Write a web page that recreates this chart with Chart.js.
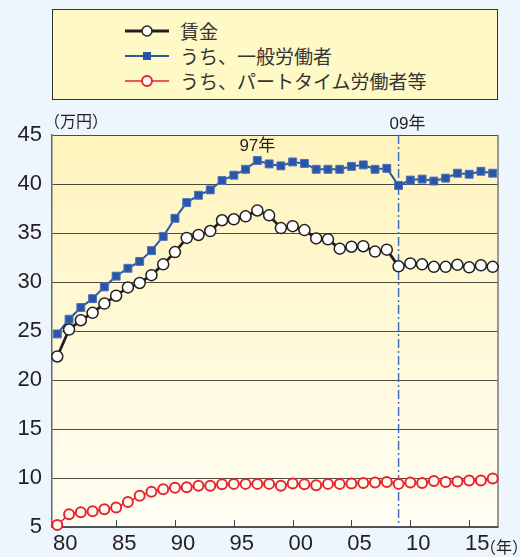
<!DOCTYPE html>
<html>
<head>
<meta charset="utf-8">
<script src="https://cdn.jsdelivr.net/npm/chart.js@4"></script>
<style>
  body { margin: 0; background: #EEF6FD; }
  #wrap { position: relative; width: 520px; height: 557px; }
  #legend {
    position: absolute; left: 52px; top: 9px; width: 446px; height: 91px;
    box-sizing: border-box; border: 1.5px solid #333; background: #FFF9C6;
    padding-top: 8px;
  }
  .row { height: 25px; display: flex; align-items: center; padding-left: 72px; }
  .row svg { margin-right: 11px; }
  .row span { font: 19px "Noto Sans CJK JP", sans-serif; color: #333; line-height: 25px; }
</style>
</head>
<body>
<div id="wrap">
  <canvas id="myChart" width="520" height="557"></canvas>
  <div id="legend"></div>
</div>
<script>
// ↓ Données ↓

const years = [1980, 1981, 1982, 1983, 1984, 1985, 1986, 1987, 1988, 1989,
               1990, 1991, 1992, 1993, 1994, 1995, 1996, 1997, 1998, 1999,
               2000, 2001, 2002, 2003, 2004, 2005, 2006, 2007, 2008, 2009,
               2010, 2011, 2012, 2013, 2014, 2015, 2016, 2017];

// 賃金
const chingin = [22.4, 25.15, 26.1, 26.85, 27.8, 28.6, 29.45, 29.9, 30.7, 31.8,
                 33.05, 34.5, 34.8, 35.2, 36.3, 36.4, 36.7, 37.3, 36.8, 35.5,
                 35.7, 35.3, 34.45, 34.35, 33.4, 33.6, 33.65, 33.1, 33.3, 31.6,
                 31.9, 31.8, 31.55, 31.55, 31.75, 31.5, 31.7, 31.55];

// うち、一般労働者
const ippan = [24.7, 26.2, 27.4, 28.3, 29.5, 30.6, 31.4, 32.1, 33.2, 34.65,
               36.5, 38.1, 38.85, 39.4, 40.35, 40.9, 41.5, 42.4, 42.05, 41.85,
               42.25, 42.1, 41.5, 41.5, 41.5, 41.8, 41.95, 41.5, 41.6, 39.85,
               40.4, 40.5, 40.3, 40.6, 41.1, 41.0, 41.3, 41.1];

// うち、パートタイム労働者等
const part = [5.2, 6.3, 6.5, 6.6, 6.8, 7.0, 7.55, 8.2, 8.6, 8.85,
              9.0, 9.05, 9.2, 9.2, 9.35, 9.4, 9.4, 9.4, 9.4, 9.2,
              9.45, 9.35, 9.25, 9.4, 9.4, 9.45, 9.5, 9.55, 9.6, 9.4,
              9.55, 9.5, 9.7, 9.6, 9.65, 9.75, 9.75, 9.95];

const tickYears = [1980, 1985, 1990, 1995, 2000, 2005, 2010, 2015];
const tickLabels = ['80', '85', '90', '95', '00', '05', '10', '15'];

const peakYear = 1997;
const breakYear = 2009;

const toPoints = arr => arr.map((v, i) => ({ x: years[i], y: v }));

Chart.defaults.font.family = '"Liberation Sans", "Noto Sans CJK JP", sans-serif';
Chart.defaults.color = '#231F20';

// ↓ Fond du graphique, bordures, ligne 09年 et textes ↓

const decor = {
    id: 'decor',
    beforeDraw(chart) {
        const { ctx, chartArea: a } = chart;
        const g = ctx.createLinearGradient(0, a.top, 0, a.bottom);
        g.addColorStop(0, '#FFF4BC');
        g.addColorStop(1, '#FFFEF4');
        ctx.save();
        ctx.fillStyle = g;
        ctx.fillRect(a.left, a.top, a.right - a.left, a.bottom - a.top);
        ctx.restore();
    },
    beforeDatasetsDraw(chart) {
        const { ctx, chartArea: a, scales } = chart;
        ctx.save();
        // bordure droite
        ctx.strokeStyle = '#777';
        ctx.lineWidth = 1.5;
        ctx.beginPath();
        ctx.moveTo(a.right, a.top);
        ctx.lineTo(a.right, a.bottom);
        ctx.stroke();
        // petites graduations vers l'intérieur
        ctx.strokeStyle = '#444';
        ctx.lineWidth = 1;
        tickYears.slice(1).forEach(y => {
            const px = Math.round(scales.x.getPixelForValue(y)) + 0.5;
            ctx.beginPath();
            ctx.moveTo(px, a.bottom);
            ctx.lineTo(px, a.bottom - 7);
            ctx.stroke();
        });
        // ligne 09年
        const bx = scales.x.getPixelForValue(breakYear);
        ctx.strokeStyle = '#3E71C2';
        ctx.lineWidth = 1.5;
        ctx.setLineDash([9, 3, 2, 3]);
        ctx.beginPath();
        ctx.moveTo(bx, a.top);
        ctx.lineTo(bx, a.bottom);
        ctx.stroke();
        ctx.restore();
    },
    afterDraw(chart) {
        const { ctx, chartArea: a, scales } = chart;
        ctx.save();
        ctx.fillStyle = '#231F20';
        ctx.textBaseline = 'middle';
        ctx.font = '17px "Liberation Sans", "Noto Sans CJK JP", sans-serif';
        ctx.textAlign = 'center';
        ctx.fillText('97年', scales.x.getPixelForValue(peakYear), a.top + 11);
        ctx.fillText('09年', scales.x.getPixelForValue(breakYear) + 9, a.top - 11);
        ctx.textAlign = 'left';
        ctx.font = '16px "Noto Sans CJK JP", sans-serif';
        ctx.fillText('（万円）', a.left - 8, a.top - 14);
        ctx.fillText('（年）', a.right - 18, a.bottom + 20);
        ctx.restore();
    }
};

const chart = new Chart(document.getElementById('myChart'), {
    type: 'line',
    data: {
        datasets: [{
            label: '賃金',
            data: toPoints(chingin),
            borderColor: '#231F20',
            borderWidth: 2.8,
            pointStyle: 'circle',
            pointRadius: 5.5,
            pointBorderWidth: 1.5,
            pointBackgroundColor: '#FFFFFF',
            pointBorderColor: '#231F20',
            marker: 'circle',
        }, {
            label: 'うち、一般労働者',
            data: toPoints(ippan),
            borderColor: '#2B56A8',
            borderWidth: 2,
            pointStyle: 'rect',
            pointRadius: 5.6,
            pointBorderWidth: 1,
            pointBackgroundColor: '#2B56A8',
            pointBorderColor: '#4A72BD',
            marker: 'rect',
        }, {
            label: 'うち、パートタイム労働者等',
            data: toPoints(part),
            borderColor: '#E9242B',
            borderWidth: 1.5,
            pointStyle: 'circle',
            pointRadius: 5,
            pointBorderWidth: 2,
            pointBackgroundColor: '#FFFEF4',
            pointBorderColor: '#E9242B',
            marker: 'circle',
        }]
    },
    options: {
        responsive: false,
        animation: false,
        devicePixelRatio: 1,
        clip: false,
        layout: { padding: { top: 135, right: 22, left: 0, bottom: 0 } },
        plugins: {
            legend: { display: false },
            tooltip: { enabled: false },
        },
        scales: {
            x: {
                type: 'linear',
                min: 1979.55,
                max: 2017.45,
                afterBuildTicks: scale => { scale.ticks = tickYears.map(v => ({ value: v })); },
                afterFit: scale => { scale.height = 30; },
                ticks: {
                    autoSkip: false,
                    maxRotation: 0,
                    padding: 4,
                    labelOffset: 8,
                    font: { size: 22 },
                    callback: (value, index) => tickLabels[index],
                },
                grid: { display: false, drawTicks: false },
                border: { display: true, color: '#555', width: 1.5 },
            },
            y: {
                min: 5,
                max: 45,
                afterFit: scale => { scale.width = 52; },
                ticks: {
                    stepSize: 5,
                    padding: 10,
                    font: { size: 22 },
                },
                grid: { color: '#4D4A3E', lineWidth: 1, drawTicks: false },
                border: { display: true, color: '#666', width: 1.5 },
            },
        },
    },
    plugins: [decor],
});

// ↓ Légende dans un cadre jaune ↓

const legendBox = document.getElementById('legend');
chart.data.datasets.forEach(ds => {
    const mark = ds.marker === 'rect'
        ? `<rect x="18" y="3" width="8" height="8" fill="${ds.pointBackgroundColor}"/>`
        : `<circle cx="22" cy="7" r="5" fill="#FFFFFF" stroke="${ds.pointBorderColor}" stroke-width="${ds.pointBorderWidth}"/>`;
    legendBox.innerHTML +=
        `<div class="row"><svg width="44" height="14">` +
        `<line x1="0" y1="7" x2="44" y2="7" stroke="${ds.borderColor}" stroke-width="${ds.borderWidth}"/>` +
        mark + `</svg><span>${ds.label}</span></div>`;
});
</script>
</body>
</html>
